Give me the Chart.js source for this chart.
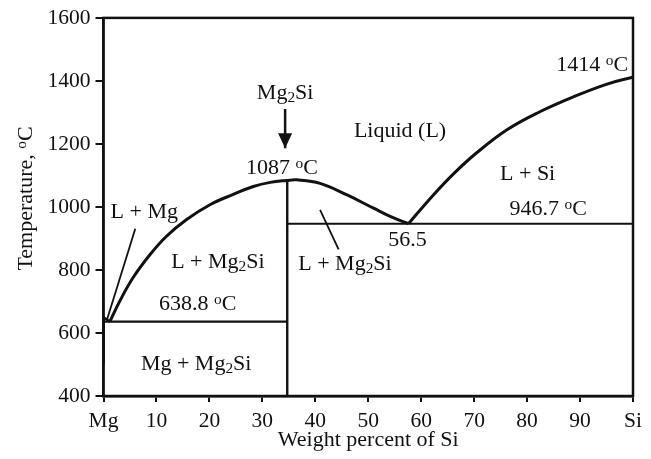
<!DOCTYPE html>
<html>
<head>
<meta charset="utf-8">
<script src="https://cdn.jsdelivr.net/npm/chart.js@4.4.1/dist/chart.umd.min.js"></script>
<style>
  html, body { margin: 0; padding: 0; background: #fff; }
  #diagram { display: block; }
</style>
</head>
<body>
<canvas id="diagram" width="651" height="459"></canvas>
<script>
// Mg-Si phase diagram (wt% Si, temperature in C)
const xTicks = [0, 10, 20, 30, 40, 50, 60, 70, 80, 90, 100];
const yTicks = [400, 600, 800, 1000, 1200, 1400, 1600];

// Mg side liquidus (tiny dip from Mg melting point to the eutectic)
const mgLiqX = [0, 1.2];
const mgLiqT = [650, 636];

// Mg2Si liquidus, both sides of the congruent maximum
const mg2siLiqX = [1.2, 3.1, 5.6, 8.8, 11.9, 15.7, 20.1, 24.5, 28.3, 31.5, 34.6, 36.5, 40.9, 46.0, 51.0, 54.8, 57.6];
const mg2siLiqT = [636, 702, 776, 849, 907, 960, 1007, 1040, 1065, 1078, 1084, 1086, 1075, 1038, 996, 965, 947];

// Si liquidus
const siLiqX = [57.6, 62.3, 66.1, 70.2, 76.2, 82.5, 88.8, 95.1, 100];
const siLiqT = [947, 1038, 1105, 1168, 1245, 1303, 1350, 1390, 1412];

// invariant lines
const eutHighX = [34.7, 100];
const eutHighT = [946.7, 946.7];
const eutLowX = [0, 34.7];
const eutLowT = [636, 636];
const mg2siX = [34.7, 34.7];
const mg2siT = [400, 1080];
const mgSolX = [0, 0];
const mgSolT = [500, 650];

// leader lines from labels
const leadMgX = [0.6, 6.0];
const leadMgT = [639, 931];
const leadMg2siX = [40.9, 44.4];
const leadMg2siT = [991, 865];

// arrow pointing at Mg2Si
const arrowX = [34.3, 34.3];
const arrowT = [1311, 1186];

// text labels: text ("_" = subscript, "^" = superscript), x, T
const labelText = ['Mg_2Si', '1087 ^oC', 'L + Mg', 'Liquid (L)', '1414 ^oC', 'L + Si', '946.7 ^oC', '56.5',
                   'L + Mg_2Si', '638.8 ^oC', 'Mg + Mg_2Si', 'L + Mg_2Si'];
const labelX = [34.3, 33.7, 7.7, 56.0, 92.3, 80.1, 84.0, 57.4, 21.6, 17.8, 17.5, 45.6];
const labelT = [1342, 1105, 964, 1222, 1433, 1087, 976, 876, 807, 673, 482, 800];

const ink = '#111';
const serif = '"Liberation Serif", "Times New Roman", serif';

function pts(xs, ts) {
    return xs.map((x, i) => ({ x: x, y: ts[i] }));
}

function line(xs, ts, w, smooth) {
    return {
        data: pts(xs, ts),
        showLine: true,
        borderColor: ink,
        borderWidth: w,
        pointRadius: 0,
        fill: false,
        tension: smooth ? 0.4 : 0
    };
}

// split "Mg_2Si" / "1087 ^oC" into pieces
function richParts(str) {
    const parts = [];
    let i = 0;
    while (i < str.length) {
        const c = str[i];
        if ((c === '_' || c === '^') && i + 1 < str.length) {
            parts.push({ t: str[i + 1], k: c });
            i += 2;
        } else {
            let s = '';
            while (i < str.length && str[i] !== '_' && str[i] !== '^') { s += str[i]; i++; }
            parts.push({ t: s, k: '' });
        }
    }
    return parts;
}

function drawRich(ctx, str, x, y, size) {
    const parts = richParts(str);
    const small = size * 0.7;
    let w = 0;
    parts.forEach(p => {
        ctx.font = (p.k ? small : size) + 'px ' + serif;
        p.w = ctx.measureText(p.t).width;
        w += p.w;
    });
    let cx = x - w / 2;
    ctx.textAlign = 'left';
    ctx.textBaseline = 'alphabetic';
    parts.forEach(p => {
        ctx.font = (p.k ? small : size) + 'px ' + serif;
        let dy = 0;
        if (p.k === '_') dy = size * 0.15;
        if (p.k === '^') dy = -size * 0.26;
        ctx.fillText(p.t, cx, y + dy);
        cx += p.w;
    });
}

const decorations = {
    id: 'decorations',
    afterDatasetsDraw(chart) {
        const ctx = chart.ctx;
        const area = chart.chartArea;
        const xs = chart.scales.x, ys = chart.scales.y;
        ctx.save();

        // plot frame
        ctx.strokeStyle = ink;
        ctx.lineWidth = 2.5;
        ctx.strokeRect(area.left, area.top, area.right - area.left, area.bottom - area.top);

        // arrow head
        const ax = xs.getPixelForValue(arrowX[1]);
        const ay = ys.getPixelForValue(arrowT[1]);
        ctx.fillStyle = ink;
        ctx.beginPath();
        ctx.moveTo(ax, ay);
        ctx.lineTo(ax - 7, ay - 15);
        ctx.lineTo(ax + 7, ay - 15);
        ctx.closePath();
        ctx.fill();

        // labels
        ctx.fillStyle = ink;
        labelText.forEach((t, i) => {
            drawRich(ctx, t, xs.getPixelForValue(labelX[i]), ys.getPixelForValue(labelT[i]), 22);
        });

        // y axis title
        ctx.translate(area.left - 72, (area.top + area.bottom) / 2 - 8.5);
        ctx.rotate(-Math.PI / 2);
        drawRich(ctx, 'Temperature, ^oC', 0, 0, 22);
        ctx.restore();
    }
};

new Chart(document.getElementById('diagram').getContext('2d'), {
    type: 'scatter',
    data: {
        datasets: [
            line(mgLiqX, mgLiqT, 2.5, false),
            line(mg2siLiqX, mg2siLiqT, 3, true),
            line(siLiqX, siLiqT, 3, true),
            line(eutHighX, eutHighT, 2.2, false),
            line(eutLowX, eutLowT, 2.2, false),
            line(mg2siX, mg2siT, 2.4, false),
            line(mgSolX, mgSolT, 3, false),
            line(leadMgX, leadMgT, 1.8, false),
            line(leadMg2siX, leadMg2siT, 1.8, false),
            line(arrowX, arrowT, 2.5, false)
        ]
    },
    options: {
        responsive: false,
        animation: false,
        layout: { padding: { top: 15, right: 18, left: 0, bottom: 0 } },
        plugins: {
            legend: { display: false },
            tooltip: { enabled: false }
        },
        scales: {
            x: {
                type: 'linear',
                min: 0,
                max: 100,
                afterBuildTicks: s => { s.ticks = xTicks.map(v => ({ value: v })); },
                afterFit: s => { s.height = 63; },
                ticks: {
                    color: ink,
                    font: { family: serif, size: 21.5 },
                    padding: 6,
                    maxRotation: 0,
                    autoSkip: false,
                    callback: v => v === 0 ? 'Mg' : (v === 100 ? 'Si' : String(v))
                },
                grid: { drawOnChartArea: false, tickLength: 6, color: ink, lineWidth: 2 },
                border: { color: ink, width: 2.5 },
                title: {
                    display: true,
                    text: 'Weight percent of Si',
                    color: ink,
                    font: { family: serif, size: 22 },
                    padding: { top: 0, bottom: 6 }
                }
            },
            y: {
                min: 400,
                max: 1600,
                afterBuildTicks: s => { s.ticks = yTicks.map(v => ({ value: v })); },
                afterFit: s => { s.width = 103.5; },
                ticks: {
                    color: ink,
                    font: { family: serif, size: 21.5 },
                    padding: 5,
                    callback: v => String(v)
                },
                grid: { drawOnChartArea: false, tickLength: 8, color: ink, lineWidth: 2 },
                border: { color: ink, width: 2.5 }
            }
        }
    },
    plugins: [decorations]
});
</script>
</body>
</html>
